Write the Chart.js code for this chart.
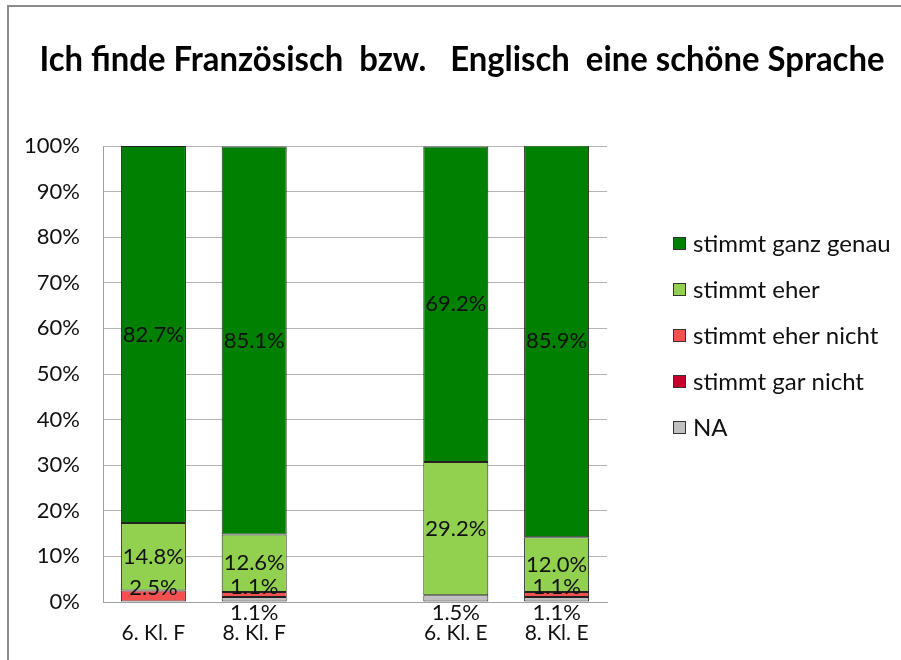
<!DOCTYPE html>
<html>
<head>
<meta charset="utf-8">
<script src="https://cdn.jsdelivr.net/npm/chart.js@4"></script>
<style>
  html, body { margin: 0; padding: 0; background: #fff; }
  #wrap { width: 901px; height: 660px; }
</style>
</head>
<body>
<div id="wrap"><canvas id="myChart" width="901" height="660"></canvas></div>
<script>
const FONT = 'Lato, "Liberation Sans", sans-serif';
const TITLE = 'Ich finde Französisch  bzw.   Englisch  eine schöne Sprache';

// categories (the empty one is the gap between F and E)
const classes = ['6. Kl. F', '8. Kl. F', '', '6. Kl. E', '8. Kl. E'];

// series, bottom to top of the stack
const na          = [0,    1.1,  null, 1.5,  1.1];
const garNicht    = [0,    0,    null, 0,    0];
const eherNicht   = [2.5,  1.1,  null, 0,    1.1];
const eher        = [14.8, 12.6, null, 29.2, 12.0];
const ganzGenau   = [82.7, 85.1, null, 69.2, 85.9];

const yTicks = [0, 10, 20, 30, 40, 50, 60, 70, 80, 90, 100];

const ctx = document.getElementById('myChart');

function mkSet(label, data, color){
  return {
    label: label,
    data: data,
    backgroundColor: color,
    borderColor: '#222',
    borderWidth: function(c){ return c.raw ? 1 : 0; },
    borderSkipped: false,
    barPercentage: 0.645,
    categoryPercentage: 1.0
  };
}

// frame around the picture + title
const framePlugin = {
  id: 'frame',
  beforeDraw(chart){
    const c = chart.ctx;
    c.save();
    c.fillStyle = '#fff';
    c.fillRect(0, 0, chart.width, chart.height);
    c.strokeStyle = '#8c8c8c';
    c.lineWidth = 2;
    c.beginPath();
    c.moveTo(8, chart.height);
    c.lineTo(8, 6);
    c.lineTo(chart.width, 6);
    c.stroke();
    c.font = 'bold 35px ' + FONT;
    c.fillStyle = '#000';
    c.textAlign = 'center';
    c.textBaseline = 'middle';
    c.fillText(TITLE, 462, 60, 845);
    c.restore();
  }
};

// value labels inside / below the segments
const labelPlugin = {
  id: 'valLabels',
  afterDatasetsDraw(chart){
    const c = chart.ctx;
    c.save();
    c.font = '22px ' + FONT;
    c.fillStyle = '#111';
    c.textAlign = 'center';
    c.textBaseline = 'middle';
    chart.data.datasets.forEach(function(ds, di){
      const meta = chart.getDatasetMeta(di);
      meta.data.forEach(function(bar, i){
        const v = ds.data[i];
        if (!v) return;
        const txt = v.toFixed(1) + '%';
        const h = bar.base - bar.y;
        let y = (bar.y + bar.base) / 2;
        if (ds.label === 'NA') {
          y = bar.base + 11;
        } else if (h < 16) {
          y = y - 8;
        }
        c.fillText(txt, bar.x, y);
      });
    });
    c.restore();
  }
};

// legend on the right, top entry = top of the stack
const legendPlugin = {
  id: 'sideLegend',
  afterDraw(chart){
    const c = chart.ctx;
    const sets = chart.data.datasets.slice().reverse();
    c.save();
    c.font = '24px ' + FONT;
    c.textBaseline = 'middle';
    c.textAlign = 'left';
    sets.forEach(function(ds, i){
      const y = 243 + i * 46;
      c.fillStyle = ds.backgroundColor;
      c.fillRect(673, y - 6, 13, 13);
      c.strokeStyle = '#333';
      c.lineWidth = 1;
      c.strokeRect(673.5, y - 5.5, 12, 12);
      c.fillStyle = '#111';
      c.fillText(ds.label, 693, y + 1);
    });
    c.restore();
  }
};

const config = {
  type: 'bar',
  data: {
    labels: classes,
    datasets: [
      mkSet('NA', na, '#c0c0c0'),
      mkSet('stimmt gar nicht', garNicht, '#c8002a'),
      mkSet('stimmt eher nicht', eherNicht, '#f35050'),
      mkSet('stimmt eher', eher, '#92d050'),
      mkSet('stimmt ganz genau', ganzGenau, '#008000')
    ]
  },
  options: {
    responsive: false,
    animation: false,
    layout: { padding: { left: 10, right: 294, top: 146, bottom: 0 } },
    plugins: {
      legend: { display: false },
      tooltip: { enabled: false },
      title: { display: false }
    },
    scales: {
      x: {
        stacked: true,
        grid: { display: false, drawTicks: false },
        border: { color: '#a0a0a0' },
        ticks: { color: '#111', font: { family: FONT, size: 21 }, padding: 19, maxRotation: 0, autoSkip: false },
        afterFit: function(s){ s.height = 58; }
      },
      y: {
        stacked: true,
        min: 0,
        max: 100,
        afterBuildTicks: function(s){ s.ticks = yTicks.map(function(v){ return { value: v }; }); },
        grid: { color: '#b4b4b4', drawTicks: false },
        border: { color: '#a0a0a0' },
        ticks: {
          color: '#111',
          font: { family: FONT, size: 22 },
          padding: 23,
          callback: function(val){ return val + '%'; }
        },
        afterFit: function(s){ s.width = 93; }
      }
    }
  },
  plugins: [framePlugin, labelPlugin, legendPlugin]
};

new Chart(ctx, config);
</script>
</body>
</html>
